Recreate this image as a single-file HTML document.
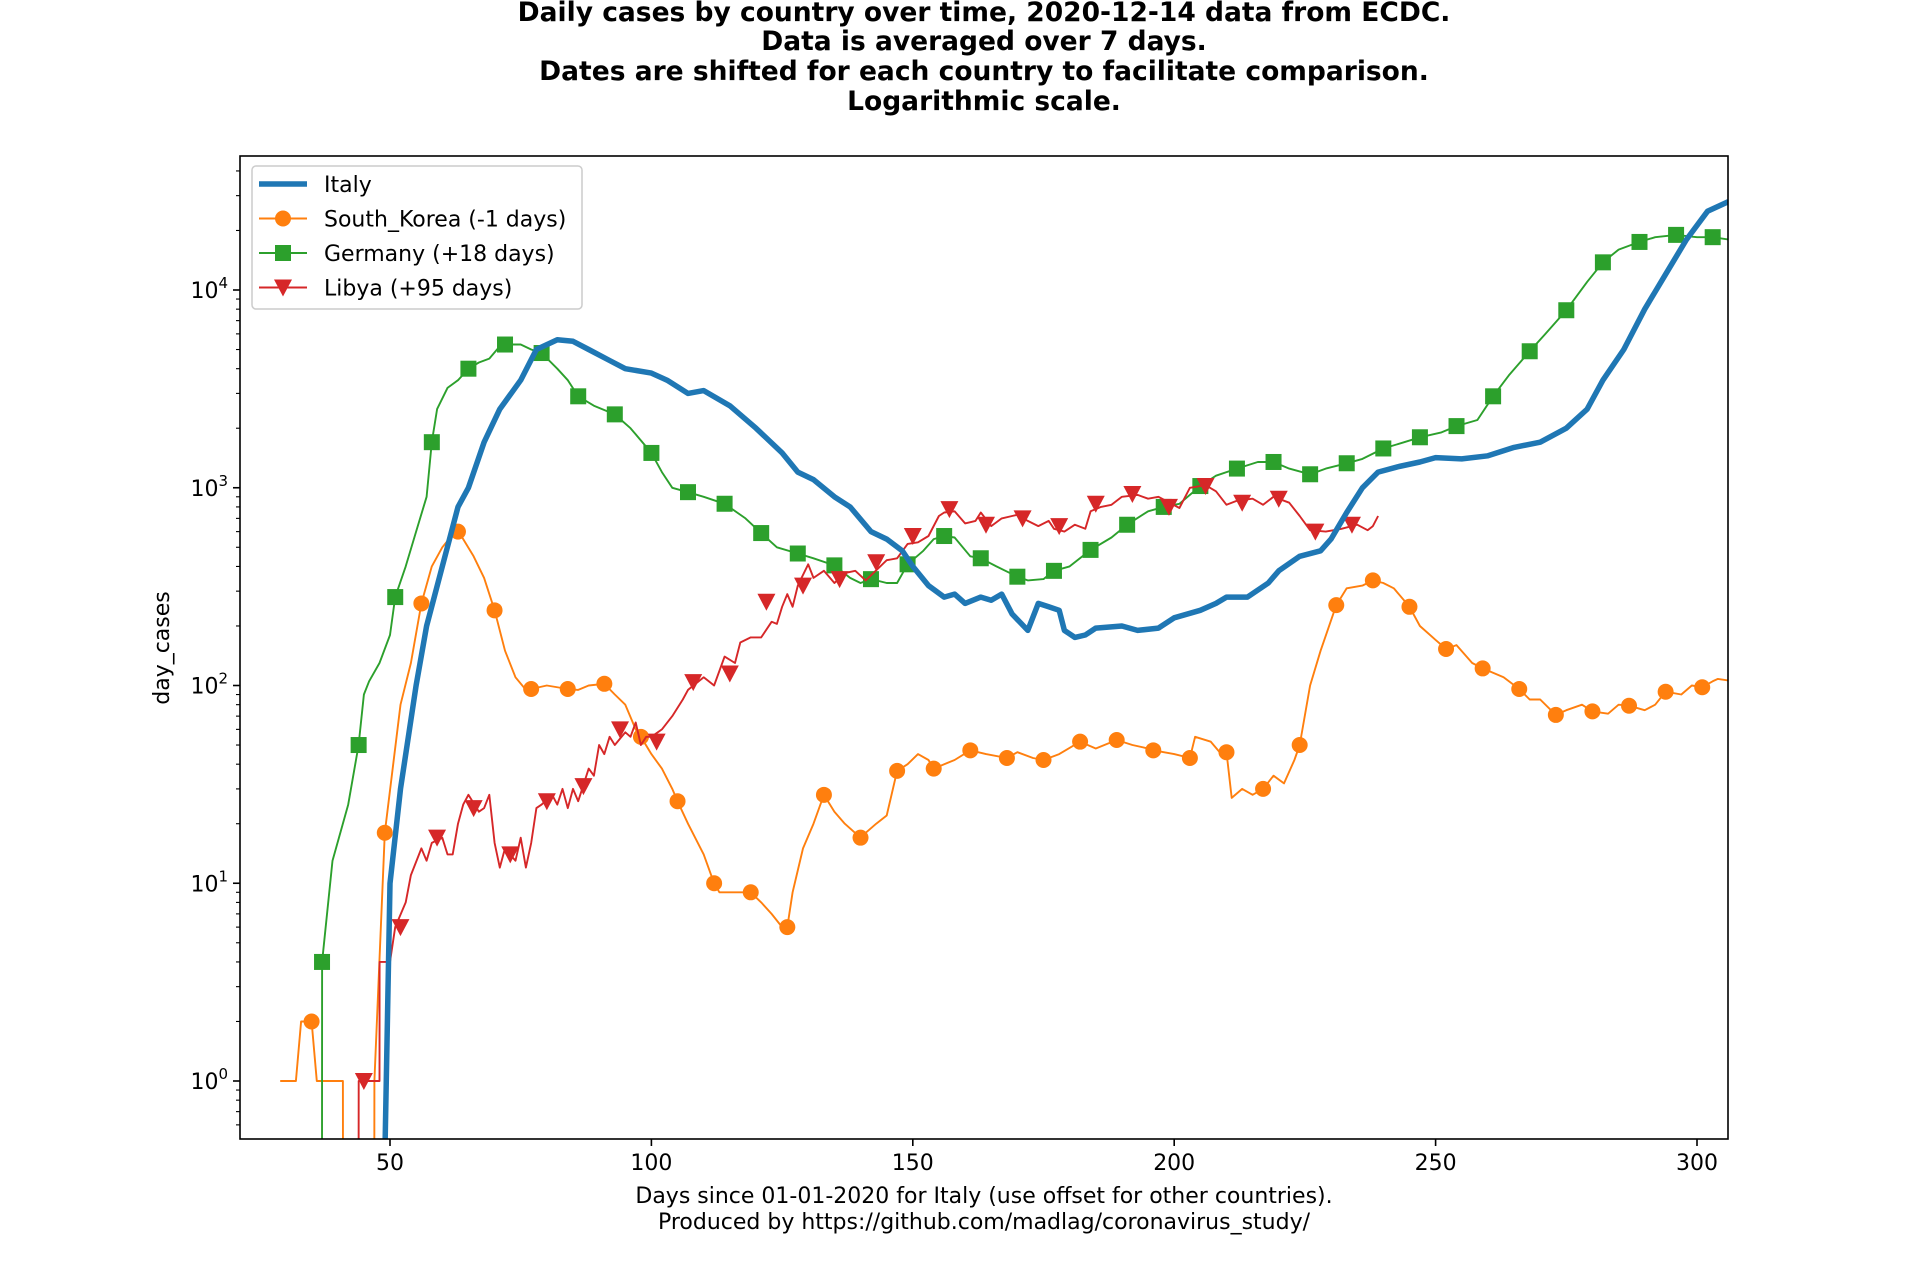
<!DOCTYPE html>
<html><head><meta charset="utf-8">
<style>
html,body{margin:0;padding:0;background:#fff;}
svg{display:block;font-family:"DejaVu Sans","Liberation Sans",sans-serif;}
</style></head>
<body>
<svg id="chart" width="1920" height="1280" viewBox="0 0 1920 1280" xmlns="http://www.w3.org/2000/svg">
<g font-weight="bold" font-size="26.5" text-anchor="middle">
<text x="984" y="21">Daily cases by country over time, 2020-12-14 data from ECDC.</text>
<text x="984" y="50">Data is averaged over 7 days.</text>
<text x="984" y="80">Dates are shifted for each country to facilitate comparison.</text>
<text x="984" y="110">Logarithmic scale.</text>
</g>
<g id="plot"></g>
<g id="axes"></g>
<text x="984" y="1203" font-size="22" text-anchor="middle">Days since 01-01-2020 for Italy (use offset for other countries).</text>
<text x="984" y="1229" font-size="22" text-anchor="middle">Produced by https://github.com/madlag/coronavirus_study/</text>
<text transform="translate(169,648) rotate(-90)" font-size="22" text-anchor="middle">day_cases</text>
<g id="legend"></g>
</svg>
<script>
const italyDays=[49,50,52,55,57,60,63,65,68,71,75,78,82,85,88,92,95,100,103,107,110,115,120,125,128,131,135,138,142,145,148,150,153,156,158,160,163,165,167,169,172,174,176,178,179,181,183,185,190,193,197,200,205,208,210,214,218,220,224,228,230,233,236,239,243,247,250,255,260,265,270,275,279,282,286,290,294,298,302,306];
const italyVals=[0.4,10,30,100,200,400,800,1000,1700,2500,3500,5000,5600,5500,5000,4400,4000,3800,3500,3000,3100,2600,2000,1500,1200,1100,900,800,600,550,480,400,320,280,290,260,280,270,290,230,190,260,250,240,190,175,180,195,200,190,195,220,240,260,280,280,330,380,450,480,550,750,1000,1200,1280,1350,1420,1400,1450,1600,1700,2000,2500,3500,5000,8000,12000,18000,25000,28000];
const koreaDays=[29,32,33,35,36,40,41,41.01,47,47.01,49,52,54,56,58,60,62,63,64,66,68,70,72,74,76,77,80,84,86,88,91,93,95,97,98,100,102,104,105,107,110,112,113,118,119,121,123,125,126,127,129,131,133,135,137,140,141,143,145,147,149,151,153,154,156,158,161,164,168,170,173,175,178,182,185,189,192,195,196,200,203,204,207,209,210,211,213,215,217,219,221,223,224,226,228,231,233,236,238,240,242,245,247,250,252,254,257,259,263,266,268,270,273,275,278,280,283,285,287,290,292,294,297,299,301,303,304,306];
const koreaVals=[1,1,2,2,1,1,1,0.3,0.3,1,18,80,130,260,400,500,580,600,550,450,350,240,150,110,95,96,100,96,95,100,102,90,80,60,55,45,38,30,26,20,14,10,9,9,9,8,7,6,6,9,15,20,28,23,20,17,18,20,22,37,40,45,42,38,40,42,47,45,43,46,43,42,45,52,48,53,50,48,47,45,43,55,52,45,46,27,30,28,30,35,32,42,50,100,150,255,310,320,340,330,310,250,200,170,153,160,130,122,110,96,85,85,71,75,80,74,72,80,79,75,80,93,90,100,98,105,108,106];
const koreaMarkerDays=[35,49,56,63,70,77,84,91,98,105,112,119,126,133,140,147,154,161,168,175,182,189,196,203,210,217,224,231,238,245,252,259,266,273,280,287,294,301];
const koreaMarkerVals=[2,18,260,600,240,96,96,102,55,26,10,9,6,28,17,37,38,47,43,42,52,53,47,43,46,30,50,255,340,250,153,122,96,71,74,79,93,98];
const germanyDays=[37,37.01,39,42,44,45,46,48,50,51,53,55,57,58,59,61,63,65,67,69,71,72,75,77,79,82,84,86,89,93,96,100,102,104,107,110,114,118,121,124,128,131,135,138,140,142,145,147,149,152,154,156,158,161,163,166,170,172,175,177,180,184,188,191,195,198,201,205,208,212,216,219,222,226,229,233,236,240,244,247,251,254,258,261,264,268,271,275,279,282,285,289,292,296,300,303,306];
const germanyVals=[0.3,4,13,25,50,90,105,130,180,280,400,600,900,1700,2500,3200,3500,4000,4300,4500,5200,5300,5300,5000,4800,4000,3500,2900,2600,2350,2000,1500,1200,1000,950,900,830,700,590,500,465,440,405,350,330,345,330,330,410,480,550,570,560,450,440,400,355,340,345,380,400,485,560,650,760,800,830,1020,1150,1250,1350,1350,1250,1170,1250,1330,1400,1580,1700,1800,1900,2050,2200,2900,3700,4900,6000,7900,11000,13800,16000,17500,18500,19000,18500,18500,18000];
const germanyMarkerDays=[37,44,51,58,65,72,79,86,93,100,107,114,121,128,135,142,149,156,163,170,177,184,191,198,205,212,219,226,233,240,247,254,261,268,275,282,289,296,303];
const germanyMarkerVals=[4,50,280,1700,4000,5300,4800,2900,2350,1500,950,830,590,465,405,345,410,570,440,355,380,485,650,800,1020,1250,1350,1170,1330,1580,1800,2050,2900,4900,7900,13800,17500,19000,18500];
const libyaDays=[44,44.01,48,48.01,50,51,53,54,56,57,58,60,61,62,63,64,65,67,68,69,70,71,72,74,75,76,77,78,79,81,82,83,84,85,86,88,89,90,91,92,93,95,96,97,98,99,100,102,104,106,107,110,112,114,116,117,119,121,123,124,125,126,127,128,130,131,133,135,137,139,141,145,147,149,151,153,155,156,158,160,162,163,165,167,169,170,172,174,176,177,179,181,183,184,186,188,190,193,195,197,201,203,206,208,210,212,215,217,219,222,224,226,229,232,235,237,238,239];
const libyaVals=[0.3,1,1,4,4,6,8,11,15,13,16,17,14,14,20,25,28,23,24,28,16,12,15,13,17,12,16,24,25,28,25,30,24,30,26,38,35,50,45,55,50,58,55,65,50,55,55,60,70,85,95,110,100,140,130,165,175,175,210,205,250,290,250,320,410,350,380,330,370,380,340,430,440,520,530,570,720,750,760,660,680,750,640,700,720,730,680,640,680,620,600,650,620,760,800,820,900,920,880,900,790,1000,1030,960,820,860,880,820,900,840,720,610,600,620,650,610,640,720];
const libyaMarkerDays=[45,52,59,66,73,80,87,94,101,108,115,122,129,136,143,150,157,164,171,178,185,192,199,206,213,220,227,234];
const libyaMarkerVals=[1,6,17,24,14,26,31,60,52,104,115,265,320,345,420,570,780,650,700,640,830,930,800,1020,840,880,600,650];
const xTicks=[50,100,150,200,250,300];
const yTickExps=[0,1,2,3,4];

const NS='http://www.w3.org/2000/svg';
const L=240,R=1728,T=156,B=1139;
const X0=50,X0px=390,PXD=(1697-390)/250;
const Y0px=1081,PXDEC=(1081-290)/4;
function xs(d){return X0px+(d-X0)*PXD;}
function ys(v){return Y0px-Math.log10(v)*PXDEC;}
function mk(tag,attrs,parent){const e=document.createElementNS(NS,tag);for(const k in attrs)e.setAttribute(k,attrs[k]);parent.appendChild(e);return e;}
const svg=document.getElementById('chart');
const plot=document.getElementById('plot');
const axes=document.getElementById('axes');
const defs=mk('defs',{},svg);
const cp=mk('clipPath',{id:'clip'},defs);
mk('rect',{x:L,y:T,width:R-L,height:B-T},cp);
plot.setAttribute('clip-path','url(#clip)');

function drawLine(days,vals,color,w,name){
  let d='';
  for(let i=0;i<days.length;i++){d+=(i?'L':'M')+xs(days[i]).toFixed(1)+' '+ys(vals[i]).toFixed(1);}
  const p=mk('path',{d:d,fill:'none',stroke:color,'stroke-width':w,'stroke-linejoin':'round'},plot);
  
  
}
function marker(shape,x,y,color,parent){
  let e;
  if(shape==='circle')e=mk('circle',{cx:x,cy:y,r:8,fill:color},parent);
  else if(shape==='square')e=mk('rect',{x:x-8,y:y-8,width:16,height:16,fill:color},parent);
  else e=mk('path',{d:`M${x-9} ${y-8}L${x+9} ${y-8}L${x} ${y+9}Z`,fill:color},parent);
  return e;
}
function drawMarkers(days,vals,shape,color,name){
  const g=mk('g',{},plot);
  
  
  for(let i=0;i<days.length;i++){
    const e=marker(shape,xs(days[i]),ys(vals[i]),color,g);
    
    
  }
}
drawLine(koreaDays,koreaVals,'#ff7f0e',1.9,'south-korea-line');
drawMarkers(koreaMarkerDays,koreaMarkerVals,'circle','#ff7f0e','south-korea');
drawLine(germanyDays,germanyVals,'#2ca02c',1.9,'germany-line');
drawMarkers(germanyMarkerDays,germanyMarkerVals,'square','#2ca02c','germany');
drawLine(libyaDays,libyaVals,'#d62728',1.9,'libya-line');
drawMarkers(libyaMarkerDays,libyaMarkerVals,'triangle','#d62728','libya');
drawLine(italyDays,italyVals,'#1f77b4',5.5,'italy-line');

const fr=mk('rect',{x:L,y:T,width:R-L,height:B-T,fill:'none',stroke:'#000','stroke-width':1.6},axes);


xTicks.forEach(t=>{
  const x=xs(t);
  const tk=mk('line',{x1:x,x2:x,y1:B,y2:B+7,stroke:'#000','stroke-width':1.6},axes);
  
  
  const tx=mk('text',{x:x,y:B+31,'font-size':22,'text-anchor':'middle'},axes);
  tx.textContent=t;
  
  
});
yTickExps.forEach(e=>{
  const y=Y0px-e*PXDEC;
  const tk=mk('line',{x1:L-7,x2:L,y1:y,y2:y,stroke:'#000','stroke-width':1.6},axes);
  
  
  const tx=mk('text',{x:L-12,y:y+8,'font-size':22,'text-anchor':'end'},axes);
  
  
  tx.innerHTML='10<tspan dy="-10" font-size="15">'+e+'</tspan>';
});
for(let e=-1;e<=4;e++){for(let m=2;m<=9;m++){
  const v=m*Math.pow(10,e);const y=ys(v);
  if(y<T||y>B)continue;
  const tk=mk('line',{x1:L-4,x2:L,y1:y,y2:y,stroke:'#000','stroke-width':1.1},axes);
  
  
}}
const lg=document.getElementById('legend');


mk('rect',{x:252,y:166,width:330,height:143,rx:4,fill:'#fff','fill-opacity':0.8,stroke:'#cccccc','stroke-width':1.5},lg);
const entries=[['Italy','#1f77b4',null,5.5],['South_Korea (-1 days)','#ff7f0e','circle',1.9],['Germany (+18 days)','#2ca02c','square',1.9],['Libya (+95 days)','#d62728','triangle',1.9]];
entries.forEach((en,i)=>{
  const y=184+i*34.5;
  const g=mk('g',{},lg);
  
  
  mk('line',{x1:259,x2:307,y1:y,y2:y,stroke:en[1],'stroke-width':en[3]},g);
  if(en[2])marker(en[2],283,y,en[1],g);
  const t=mk('text',{x:324,y:y+8,'font-size':22},g);
  t.textContent=en[0];
});
</script>
</body></html>
